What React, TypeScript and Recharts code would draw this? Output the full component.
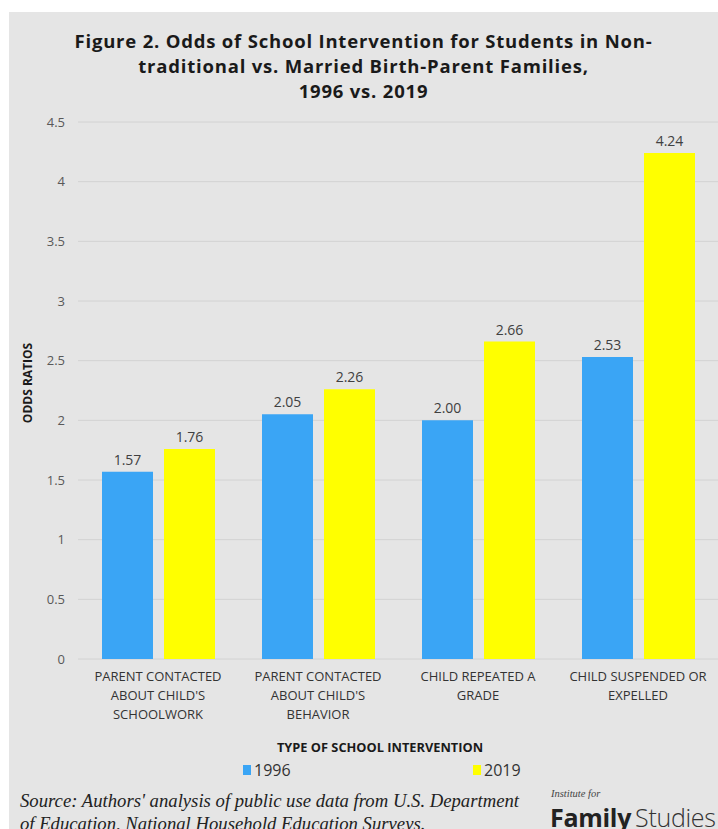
import React from "react";
import { BarChart, Bar, XAxis, YAxis, CartesianGrid, LabelList } from "recharts";

// Chart values.
const categories = ["schoolwork", "behavior", "repeated", "suspended"];
const categoryLines = [
  ["PARENT CONTACTED", "ABOUT CHILD'S", "SCHOOLWORK"],
  ["PARENT CONTACTED", "ABOUT CHILD'S", "BEHAVIOR"],
  ["CHILD REPEATED A", "GRADE"],
  ["CHILD SUSPENDED OR", "EXPELLED"],
];
const values1996 = [1.57, 2.05, 2.0, 2.53];
const values2019 = [1.76, 2.26, 2.66, 4.24];
const yTicks = [0, 0.5, 1, 1.5, 2, 2.5, 3, 3.5, 4, 4.5];

const BLUE = "#3aa5f5";
const YELLOW = "#ffff00";
const FONT = "'Open Sans', sans-serif";

const data = categories.map((c, i) => ({
  key: c,
  idx: i,
  y1996: values1996[i],
  y2019: values2019[i],
}));

function CategoryTick(props: any) {
  const { x, y, payload } = props;
  const lines = categoryLines[payload.index] ?? [];
  return (
    <text
      x={x}
      y={y}
      textAnchor="middle"
      fill="#333"
      style={{ fontFamily: FONT, fontSize: 13 }}
    >
      {lines.map((l, i) => (
        <tspan key={i} x={x} dy={i === 0 ? 0 : 19}>
          {l}
        </tspan>
      ))}
    </text>
  );
}

export default function App() {
  return (
    <div
      style={{
        position: "absolute",
        left: 0,
        top: 0,
        width: 718,
        height: 829,
        background: "#fff",
        overflow: "hidden",
      }}
    >
      <div
        style={{
          position: "absolute",
          left: 9,
          top: 12,
          right: 0,
          bottom: 0,
          background: "#e5e5e5",
        }}
      />
      <div
        style={{
          position: "absolute",
          left: 9,
          right: 0,
          top: 28,
          textAlign: "center",
          fontFamily: FONT,
          fontWeight: 700,
          fontSize: 18.5,
          letterSpacing: 0.8,
          lineHeight: "25px",
          color: "#1a1a1a",
        }}
      >
        Figure 2. Odds of School Intervention for Students in Non-
        <br />
        traditional vs. Married Birth-Parent Families,
        <br />
        1996 vs. 2019
      </div>

      <div style={{ position: "absolute", left: 0, top: 0 }}>
        <BarChart
          width={718}
          height={740}
          data={data}
          margin={{ top: 122, right: 0, left: 0, bottom: 0 }}
          barGap={11}
          barCategoryGap={24}
        >
          <CartesianGrid vertical={false} stroke="#d2d2d2" strokeWidth={1} />
          <YAxis
            width={78}
            domain={[0, 4.5]}
            ticks={yTicks}
            axisLine={false}
            tickLine={false}
            tickSize={0}
            tickMargin={13}
            tick={{ fill: "#595959", fontSize: 13, fontFamily: FONT }}
          />
          <XAxis
            dataKey="key"
            height={81}
            axisLine={false}
            tickLine={false}
            tickSize={0}
            interval={0}
            tickMargin={22}
            tick={<CategoryTick />}
          />
          <Bar dataKey="y1996" fill={BLUE} isAnimationActive={false}>
            <LabelList
              dataKey="y1996"
              position="top"
              offset={7}
              formatter={(v: any) => Number(v).toFixed(2)}
              style={{ fill: "#404040", fontSize: 14, fontFamily: FONT }}
            />
          </Bar>
          <Bar dataKey="y2019" fill={YELLOW} isAnimationActive={false}>
            <LabelList
              dataKey="y2019"
              position="top"
              offset={7}
              formatter={(v: any) => Number(v).toFixed(2)}
              style={{ fill: "#404040", fontSize: 14, fontFamily: FONT }}
            />
          </Bar>
        </BarChart>
      </div>

      {/* y axis title */}
      <div
        style={{
          position: "absolute",
          left: 27,
          top: 383,
          transform: "translate(-50%, -50%) rotate(-90deg)",
          fontFamily: FONT,
          fontWeight: 700,
          fontSize: 12,
          color: "#1a1a1a",
          whiteSpace: "nowrap",
        }}
      >
        ODDS RATIOS
      </div>

      {/* x axis title */}
      <div
        style={{
          position: "absolute",
          left: 380,
          top: 747,
          transform: "translate(-50%, -50%)",
          fontFamily: FONT,
          fontWeight: 700,
          fontSize: 12.8,
          color: "#1a1a1a",
          whiteSpace: "nowrap",
        }}
      >
        TYPE OF SCHOOL INTERVENTION
      </div>

      {/* legend */}
      {[
        { label: "1996", color: BLUE, x: 243 },
        { label: "2019", color: YELLOW, x: 473 },
      ].map((l) => (
        <div
          key={l.label}
          style={{
            position: "absolute",
            left: l.x,
            top: 759,
            display: "flex",
            alignItems: "center",
            fontFamily: FONT,
            fontSize: 16,
            color: "#333",
          }}
        >
          <span
            style={{ width: 8, height: 10, background: l.color, marginRight: 3 }}
          />
          {l.label}
        </div>
      ))}

      {/* source */}
      <div
        style={{
          position: "absolute",
          left: 20,
          top: 789,
          fontFamily: "'Liberation Serif', serif",
          fontStyle: "italic",
          fontSize: 18.7,
          lineHeight: "23px",
          color: "#222",
          whiteSpace: "nowrap",
        }}
      >
        Source: Authors' analysis of public use data from U.S. Department
        <br />
        of Education, National Household Education Surveys.
      </div>

      {/* logo */}
      <div
        style={{
          position: "absolute",
          left: 551,
          top: 788,
          fontFamily: "'Liberation Serif', serif",
          fontStyle: "italic",
          fontSize: 10.5,
          color: "#444",
        }}
      >
        Institute for
      </div>
      <div
        style={{
          position: "absolute",
          left: 550,
          top: 800,
          fontFamily: FONT,
          fontSize: 25,
          color: "#333",
          whiteSpace: "nowrap",
          letterSpacing: -0.3,
        }}
      >
        <span style={{ fontWeight: 700, color: "#222" }}>Family</span>
        <span style={{ fontWeight: 300, marginLeft: 4 }}>Studies</span>
      </div>
    </div>
  );
}
